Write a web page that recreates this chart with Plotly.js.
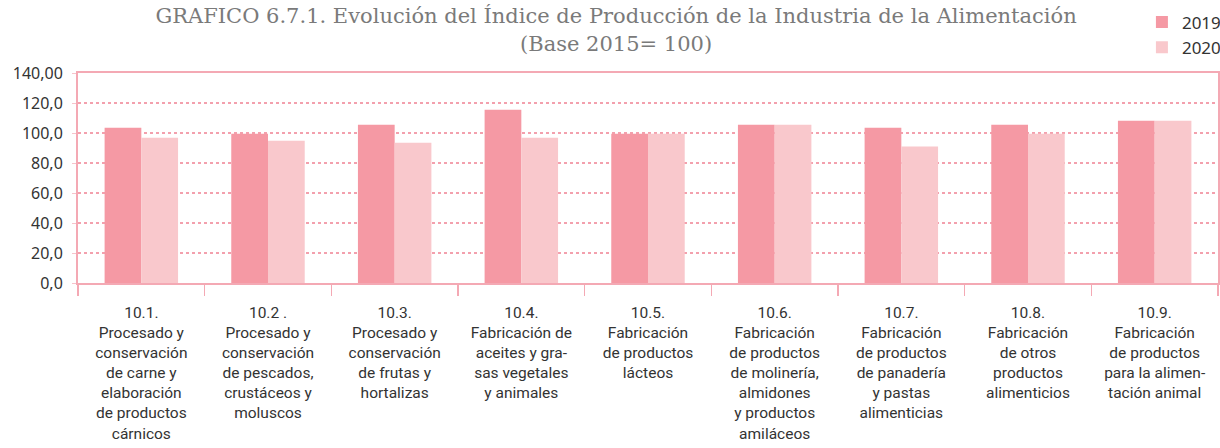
<!DOCTYPE html>
<html><head><meta charset="utf-8">
<script src="https://cdn.plot.ly/plotly-3.0.1.min.js"></script>
<style>html,body{margin:0;padding:0;background:#fff;}#chart{width:1220px;height:448px;}</style>
</head><body><div id="chart"></div>
<script>
const categories = [
  "10.1.<br>Procesado y<br>conservación<br>de carne y<br>elaboración<br>de productos<br>cárnicos",
  "10.2 .<br>Procesado y<br>conservación<br>de pescados,<br>crustáceos y<br>moluscos",
  "10.3.<br>Procesado y<br>conservación<br>de frutas y<br>hortalizas",
  "10.4.<br>Fabricación de<br>aceites y gra-<br>sas vegetales<br>y animales",
  "10.5.<br>Fabricación<br>de productos<br>lácteos",
  "10.6.<br>Fabricación<br>de productos<br>de molinería,<br>almidones<br>y productos<br>amiláceos",
  "10.7.<br>Fabricación<br>de productos<br>de panadería<br>y pastas<br>alimenticias",
  "10.8.<br>Fabricación<br>de otros<br>productos<br>alimenticios",
  "10.9.<br>Fabricación<br>de productos<br>para la alimen-<br>tación animal"
];
const values2019 = [103.5, 99.5, 105.5, 115.5, 99.5, 105.5, 103.5, 105.5, 108.2];
const values2020 = [96.9, 94.9, 93.5, 96.9, 99.5, 105.5, 91.0, 99.5, 108.2];
const yTickVals = [0, 20, 40, 60, 80, 100, 120, 140];
const yTickText = ["0,0", "20,0", "40,0", "60,0", "80,0", "100,0", "120,0", "140,00"];

const pinkAxis = "#F4A9B4";
const data = [
  {type: "bar", name: "2019", x: categories, y: values2019, marker: {color: "#F599A4"}, hoverinfo: "y"},
  {type: "bar", name: "2020", x: categories, y: values2020, marker: {color: "#F9C8CC"}, hoverinfo: "y"}
];
const layout = {
  width: 1220, height: 448,
  margin: {l: 78, r: 2, t: 73, b: 165, autoexpand: false},
  paper_bgcolor: "#fff", plot_bgcolor: "#fff",
  barmode: "group", bargap: 0.42, bargroupgap: 0,
  title: {
    text: "GRAFICO 6.7.1. Evolución del Índice de Producción de la Industria de la Alimentación<br>(Base 2015= 100)",
    font: {family: "DejaVu Serif, serif", size: 21, color: "#7a7a7a"},
    x: 0.505, xanchor: "center", yref: "container", y: 0.948, yanchor: "top", pad: {t: 0}
  },
  legend: {
    xref: "container", yref: "container", x: 0.936, y: 0.99, xanchor: "left", yanchor: "top",
    font: {family: "Noto Sans, sans-serif", size: 17, color: "#333"},
    bgcolor: "rgba(0,0,0,0)"
  },
  xaxis: {
    type: "category", tickson: "boundaries", ticks: "outside", ticklen: 11, tickcolor: pinkAxis, tickwidth: 1.5,
    showline: true, linecolor: pinkAxis, linewidth: 2, mirror: true,
    tickangle: 0, tickfont: {family: "Liberation Sans Narrow, Roboto, sans-serif", size: 15.5, color: "#333"},
    showgrid: false, automargin: false, ticklabelstandoff: 14
  },
  yaxis: {
    range: [0, 140], tickvals: yTickVals, ticktext: yTickText,
    tickfont: {family: "Noto Sans, sans-serif", size: 16, color: "#333"},
    showline: true, linecolor: pinkAxis, linewidth: 2, mirror: true,
    ticks: "outside", ticklen: 4, tickcolor: "#F7C3CB",
    showgrid: true, gridcolor: "#F3A0AD", griddash: "dot", gridwidth: 1.2,
    zeroline: false, ticklabelstandoff: 6, automargin: false
  },
  showlegend: true
};
Plotly.newPlot("chart", data, layout, {displayModeBar: false, staticPlot: true});
</script>
</body></html>
